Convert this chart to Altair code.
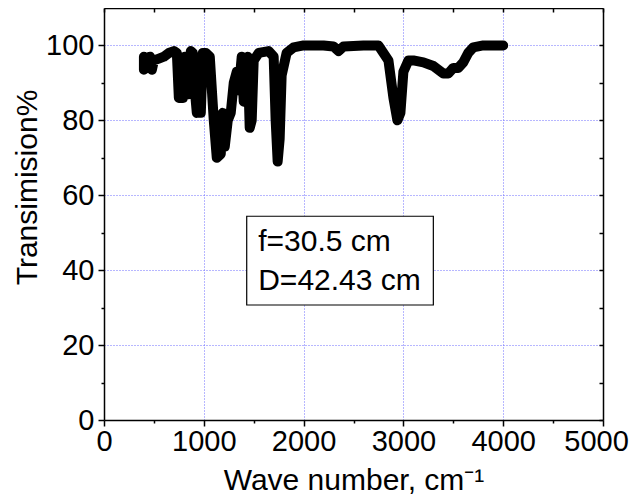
import altair as alt
import pandas as pd

wavenumber = [400, 400, 430, 460, 480, 500, 550, 600, 650, 700, 730, 750, 770, 790, 810, 830, 850,
              870, 890, 910, 930, 950, 970, 990, 1020, 1060, 1100, 1130, 1170, 1190, 1210, 1240,
              1270, 1300, 1330, 1350, 1380, 1400, 1420, 1440, 1460, 1480, 1500, 1550, 1650, 1700,
              1720, 1740, 1760, 1780, 1830, 1900, 2000, 2200, 2300, 2350, 2400, 2600, 2750, 2800,
              2850, 2900, 2940, 2970, 3000, 3050, 3100, 3200, 3300, 3400, 3450, 3500, 3550, 3600,
              3650, 3700, 3800, 4000]
transmission = [93.5, 97, 94, 97, 93.5, 96, 96.5, 97, 98, 98.5, 98, 86, 96, 86, 97, 88, 87,
                98.5, 98, 88, 82, 90, 82, 98, 98, 97, 80, 70, 71, 82, 73, 80,
                82, 90, 93, 88, 97, 85, 96, 97, 78, 80, 96, 98, 98.5, 97,
                80, 69, 75, 92, 98, 99.5, 100, 100, 99.7, 98.5, 99.7, 100, 100, 98,
                96, 86, 80, 82, 93, 96, 96, 95.5, 94.5, 92.5, 92.5, 94, 94, 95.5,
                98, 99.5, 100, 100]

box_x = [1430]
box_x2 = [3300]
box_y = [54.4]
box_y2 = [30.7]
note_lines = ["f=30.5 cm", "D=42.43 cm"]
note_x = [1545, 1545]
note_y = [45.1, 34.7]

x_ticks = list(range(0, 5001, 500))
y_ticks = list(range(0, 101, 10))

FONT = "Liberation Sans"
FS = 30
LFS = 29

df = pd.DataFrame({"wn": wavenumber, "t": transmission, "order": list(range(len(wavenumber)))})

xscale = alt.Scale(domain=[0, 5000], nice=False, zero=False)
yscale = alt.Scale(domain=[0, 110], nice=False, zero=False)

x_axis = alt.Axis(
    orient="bottom", values=x_ticks, title="Wave number, cm⁻¹",
    labelExpr="datum.value % 1000 === 0 ? datum.label : ''", format="d",
    labelFont=FONT, labelFontSize=LFS, labelColor="black", labelPadding=1,
    labelOffset={"condition": {"test": "datum.value === 5000", "value": -7}, "value": 0},
    titleFont=FONT, titleFontSize=FS, titleFontWeight="normal", titleColor="black",
    titleBaseline="alphabetic", titleY=69,
    domainColor="black", domainWidth=1.5, tickColor="black", tickWidth=1.5,
    tickSize={"condition": {"test": "datum.value % 1000 === 0", "value": 6}, "value": 3},
    grid=True, gridColor="#6f6fff", gridDash=[1, 2], gridWidth=1,
    gridOpacity={"condition": {"test": "datum.value % 1000 === 0 && datum.value > 0 && datum.value < 5000", "value": 1}, "value": 0},
    labelFlush=False, labelOverlap=False,
)
y_axis = alt.Axis(
    orient="left", values=y_ticks, title="Transimision%",
    labelExpr="datum.value % 20 === 0 ? datum.label : ''", format="d",
    labelFont=FONT, labelFontSize=LFS, labelColor="black", labelPadding=4,
    titleFont=FONT, titleFontSize=FS, titleFontWeight="normal", titleColor="black",
    titleBaseline="alphabetic", titleX=-68, titleY=179, titleAngle=270,
    domainColor="black", domainWidth=1.5, tickColor="black", tickWidth=1.5,
    tickSize={"condition": {"test": "datum.value % 20 === 0", "value": 6}, "value": 3},
    grid=True, gridColor="#6f6fff", gridDash=[1, 2], gridWidth=1,
    gridOpacity={"condition": {"test": "datum.value % 20 === 0 && datum.value > 0", "value": 1}, "value": 0},
    labelFlush=False, labelOverlap=False,
)

line = alt.Chart(df).mark_line(
    color="black", strokeWidth=10, strokeJoin="round", strokeCap="round"
).encode(
    x=alt.X("wn:Q", scale=xscale, axis=x_axis),
    y=alt.Y("t:Q", scale=yscale, axis=y_axis),
    order="order:Q",
)

frame = alt.Chart(df).mark_line(opacity=0).encode(
    x=alt.X("wn:Q", scale=xscale, axis=alt.Axis(
        orient="top", values=x_ticks, labels=False, title=None, grid=False,
        domainColor="black", domainWidth=1.5, tickColor="black", tickWidth=1.5,
        tickSize={"expr": "-4"})),
    y=alt.Y("t:Q", scale=yscale, axis=alt.Axis(
        orient="right", values=y_ticks, labels=False, title=None, grid=False,
        domainColor="black", domainWidth=1.5, tickColor="black", tickWidth=1.5,
        tickSize={"expr": "-4"})),
)

box_df = pd.DataFrame({"x": box_x, "x2": box_x2, "y": box_y, "y2": box_y2})
box = alt.Chart(box_df).mark_rect(fill="white", stroke="black", strokeWidth=1.2).encode(
    x=alt.X("x:Q", scale=xscale, axis=None),
    x2="x2:Q",
    y=alt.Y("y:Q", scale=yscale, axis=None),
    y2="y2:Q",
)

note_df = pd.DataFrame({"label": note_lines, "x": note_x, "y": note_y})
note = alt.Chart(note_df).mark_text(
    align="left", baseline="alphabetic", font=FONT, fontSize=FS, color="black"
).encode(
    x=alt.X("x:Q", scale=xscale, axis=None),
    y=alt.Y("y:Q", scale=yscale, axis=None),
    text="label:N",
)

chart = alt.layer(line, frame, box, note).resolve_axis(
    x="independent", y="independent"
).properties(
    width=499, height=412,
    autosize=alt.AutoSizeParams(type="none"),
    padding={"left": 96, "top": 0, "right": 26, "bottom": 75},
).configure_view(stroke=None)

chart.save("out.html", embed_options={"renderer": "svg", "actions": False})
